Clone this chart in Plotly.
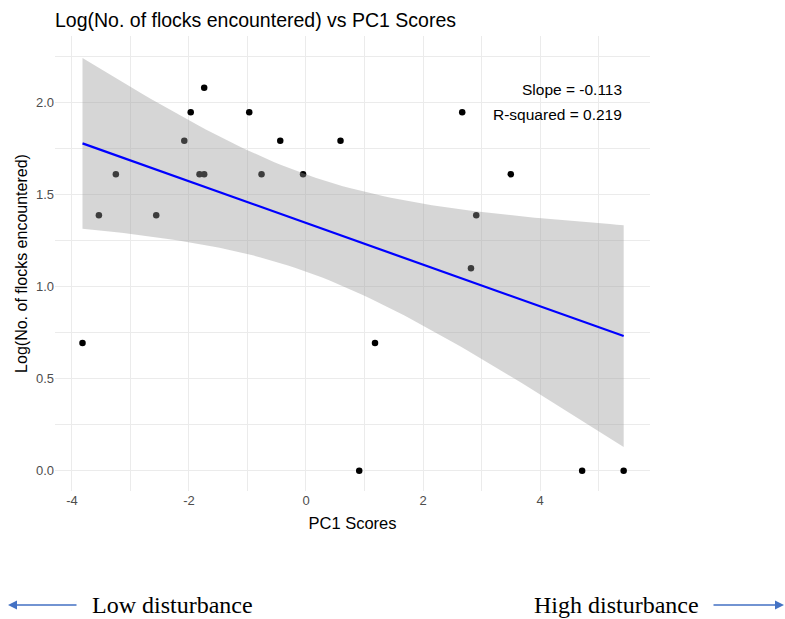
import numpy as np
import plotly.graph_objects as go

# ---- data ----
pc1_scores = [-3.82, -3.54, -3.25, -2.56, -2.08, -1.97, -1.74, -1.82, -1.74,
              -0.97, -0.76, -0.44, -0.05, 0.59, 0.91, 1.18, 2.67, 2.82, 2.91,
              3.50, 4.72, 5.43]
flock_counts = [2, 4, 5, 4, 6, 7, 8, 5, 5,
                7, 5, 6, 5, 6, 1, 2, 7, 3, 4,
                5, 1, 1]
x_ticks = [-4, -2, 0, 2, 4]
y_ticks = [0.0, 0.5, 1.0, 1.5, 2.0]
slope_label = "Slope = -0.113"
r2_label = "R-squared = 0.219"
t_975_df20 = 2.086  # t quantile for 95% CI with n-2 = 20 df

x = np.array(pc1_scores, dtype=float)
y = np.log(np.array(flock_counts, dtype=float))

# ---- linear model + 95% confidence band (as geom_smooth(method="lm")) ----
n = len(x)
b1, b0 = np.polyfit(x, y, 1)
resid = y - (b0 + b1 * x)
s = np.sqrt(np.sum(resid ** 2) / (n - 2))
sxx = np.sum((x - x.mean()) ** 2)
xg = np.linspace(x.min(), x.max(), 80)
yg = b0 + b1 * xg
se = s * np.sqrt(1.0 / n + (xg - x.mean()) ** 2 / sxx)
lo = yg - t_975_df20 * se
hi = yg + t_975_df20 * se

font_main = "Liberation Sans, Arial, sans-serif"

fig = go.Figure()
fig.add_trace(go.Scatter(x=x, y=y, mode="markers",
                         marker=dict(color="black", size=6.5),
                         hoverinfo="x+y", showlegend=False))
fig.add_trace(go.Scatter(x=np.concatenate([xg, xg[::-1]]),
                         y=np.concatenate([hi, lo[::-1]]),
                         fill="toself", fillcolor="rgba(153,153,153,0.4)",
                         line=dict(width=0), mode="lines",
                         hoverinfo="skip", showlegend=False))
fig.add_trace(go.Scatter(x=xg, y=yg, mode="lines",
                         line=dict(color="#0000ff", width=2.2),
                         showlegend=False))

fig.add_annotation(x=x.max(), y=2.07, xref="x", yref="y", text=slope_label,
                   showarrow=False, xanchor="right", yanchor="middle",
                   font=dict(size=15.5, color="black", family=font_main))
fig.add_annotation(x=x.max(), y=1.935, xref="x", yref="y", text=r2_label,
                   showarrow=False, xanchor="right", yanchor="middle",
                   font=dict(size=15.5, color="black", family=font_main))

# bottom disturbance labels with arrows (paper coords; plot area 55..650 x, 36..491 y)
def px_x(p):
    return (p - 55) / 595.0

def px_y(p):
    return (491 - p) / 455.0

serif = "Liberation Serif, Times New Roman, serif"
yb = px_y(605)
fig.add_annotation(x=px_x(90), y=yb, xref="paper", yref="paper",
                   text="Low disturbance", showarrow=False, xanchor="left",
                   yanchor="middle", font=dict(size=24, color="black", family=serif))
fig.add_annotation(x=px_x(701), y=yb, xref="paper", yref="paper",
                   text="High disturbance", showarrow=False, xanchor="right",
                   yanchor="middle", font=dict(size=24, color="black", family=serif))
fig.add_annotation(x=px_x(8), y=yb, xref="paper", yref="paper", text="",
                   showarrow=True, ax=70, ay=0, arrowhead=2, arrowsize=1.2,
                   arrowwidth=1.5, arrowcolor="#4472C4")
fig.add_annotation(x=px_x(784), y=yb, xref="paper", yref="paper", text="",
                   showarrow=True, ax=-72, ay=0, arrowhead=2, arrowsize=1.2,
                   arrowwidth=1.5, arrowcolor="#4472C4")

grid = "#ebebeb"
fig.update_layout(
    width=785, height=619,
    margin=dict(l=55, r=135, t=36, b=128),
    paper_bgcolor="white", plot_bgcolor="white",
    font=dict(family=font_main),
    title=dict(text="Log(No. of flocks encountered) vs PC1 Scores",
               x=55 / 785, xanchor="left", y=1 - 20 / 619, yanchor="middle",
               font=dict(size=19.5, color="black", family=font_main)),
    xaxis=dict(range=[-4.29, 5.88], tickvals=x_ticks,
               ticktext=[str(v) for v in x_ticks],
               showgrid=True, gridcolor=grid, gridwidth=1.2,
               minor=dict(showgrid=True, gridcolor=grid, gridwidth=0.8, dtick=1, tick0=-5),
               zeroline=False, showline=False, ticks="",
               tickfont=dict(size=13, color="#4d4d4d"),
               title=dict(text="PC1 Scores", standoff=10,
                          font=dict(size=16.5, color="black"))),
    yaxis=dict(range=[-0.11, 2.36], tickvals=y_ticks,
               ticktext=[f"{v:.1f}" for v in y_ticks],
               showgrid=True, gridcolor=grid, gridwidth=1.2,
               minor=dict(showgrid=True, gridcolor=grid, gridwidth=0.8, dtick=0.25, tick0=0),
               zeroline=False, showline=False, ticks="",
               tickfont=dict(size=13, color="#4d4d4d"),
               title=dict(text="Log(No. of flocks encountered)", standoff=4,
                          font=dict(size=16, color="black"))),
)

fig.write_html("out.html")
